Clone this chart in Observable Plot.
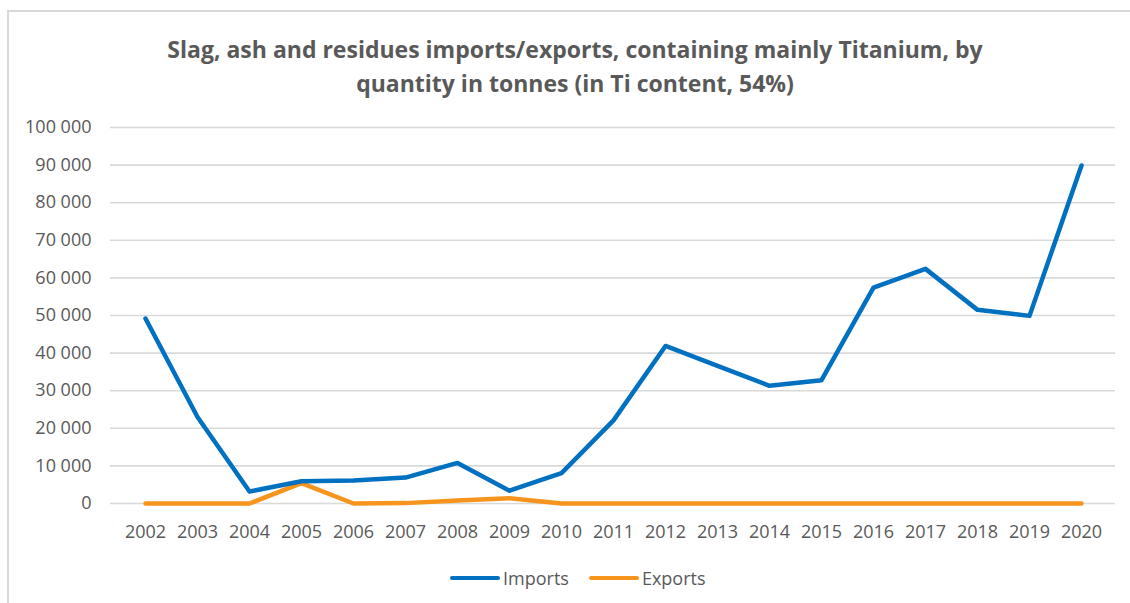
<!DOCTYPE html>
<html>
<head>
<meta charset="utf-8">
<script src="https://cdn.jsdelivr.net/npm/d3@7"></script>
<script src="https://cdn.jsdelivr.net/npm/@observablehq/plot@0.6"></script>
<style>
  html, body { margin: 0; padding: 0; background: #fff; }
  body { width: 1130px; height: 603px; position: relative; overflow: hidden; font-family: "Open Sans", sans-serif; color: #595959; }
  #frame { position: absolute; left: 7px; top: 10px; width: 1140px; height: 620px; border-left: 2px solid #d9d9d9; border-top: 2px solid #d9d9d9; }
  #title { position: absolute; left: 75px; width: 1000px; top: 32px; text-align: center; font-weight: bold; font-size: 23px; line-height: 34px; color: #595959; }
  #chart { position: absolute; left: 0; top: 100px; }
  #legend { position: absolute; top: 566px; left: 450px; height: 24px; display: flex; align-items: center; font-size: 18px; color: #595959; }
  .sw { width: 50px; height: 4.5px; border-radius: 2px; margin-right: 3px; }
  .item { display: flex; align-items: center; margin-right: 20px; }
</style>
</head>
<body>
<div id="frame"></div>
<div id="title">Slag, ash and residues imports/exports, containing mainly Titanium, by<br>quantity in tonnes (in Ti content, 54%)</div>
<div id="chart"></div>
<div id="legend"></div>
<script>
const years = [2002, 2003, 2004, 2005, 2006, 2007, 2008, 2009, 2010, 2011, 2012, 2013, 2014, 2015, 2016, 2017, 2018, 2019, 2020];
const imports = [49200, 23000, 3200, 5900, 6100, 6900, 10800, 3400, 8100, 22100, 41900, 36600, 31300, 32800, 57400, 62400, 51500, 49900, 89900];
const exports = [0, 0, 0, 5400, 0, 100, 800, 1400, 0, 0, 0, 0, 0, 0, 0, 0, 0, 0, 0];
const yTicks = [0, 10000, 20000, 30000, 40000, 50000, 60000, 70000, 80000, 90000, 100000];
const seriesNames = ["Imports", "Exports"];
const seriesColors = ["#0070C0", "#F7941D"];

const rows = [];
years.forEach((y, i) => {
  rows.push({year: String(y), value: imports[i], series: seriesNames[0]});
  rows.push({year: String(y), value: exports[i], series: seriesNames[1]});
});

const fmt = d => d3.format(",")(d).replace(/,/g, " ");

const chart = Plot.plot({
  width: 1130,
  height: 450,
  marginTop: 27,
  marginBottom: 47,
  marginLeft: 110,
  marginRight: 15,
  style: {fontFamily: "Open Sans, sans-serif", fontSize: "18px", color: "#595959", background: "transparent"},
  x: {type: "point", domain: years.map(String), padding: 0.5, label: null},
  y: {domain: [0, 100000], label: null},
  color: {domain: seriesNames, range: seriesColors},
  marks: [
    Plot.ruleY(yTicks, {stroke: "#d9d9d9", strokeWidth: 1.6}),
    Plot.axisY({ticks: yTicks, tickFormat: fmt, tickSize: 0, tickPadding: 19, label: null, fill: "#595959", fontSize: 18}),
    Plot.axisX({tickSize: 0, tickPadding: 22, label: null, fill: "#595959", fontSize: 18}),
    Plot.line(rows.filter(d => d.series === "Exports"), {x: "year", y: "value", stroke: "series", strokeWidth: 4.5, strokeLinejoin: "round", strokeLinecap: "round"}),
    Plot.line(rows.filter(d => d.series === "Imports"), {x: "year", y: "value", stroke: "series", strokeWidth: 4.5, strokeLinejoin: "round", strokeLinecap: "round"})
  ]
});
document.getElementById("chart").appendChild(chart);

const legend = document.getElementById("legend");
seriesNames.forEach((name, i) => {
  const item = document.createElement("div");
  item.className = "item";
  const sw = document.createElement("div");
  sw.className = "sw";
  sw.style.background = seriesColors[i];
  const t = document.createElement("span");
  t.textContent = name;
  item.appendChild(sw);
  item.appendChild(t);
  legend.appendChild(item);
});
</script>
</body>
</html>
